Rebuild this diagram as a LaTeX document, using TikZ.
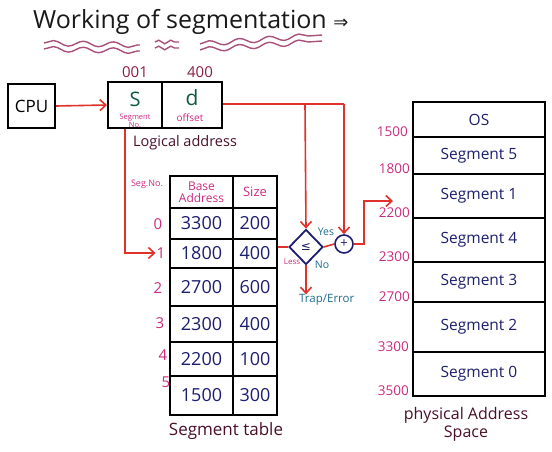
\documentclass[tikz,border=0pt]{standalone}
\usepackage{fontspec}
\setmainfont{Open Sans}
\newfontfamily\symf{DejaVu Sans}
\usetikzlibrary{arrows.meta,shapes.geometric,decorations.pathmorphing}
\definecolor{redl}{HTML}{E0322A}
\definecolor{navy}{HTML}{1C1F6E}
\definecolor{mag}{HTML}{CC2A7E}
\definecolor{maroon}{HTML}{8A1E40}
\definecolor{dmaroon}{HTML}{4A1028}
\definecolor{dgreen}{HTML}{0E5A40}
\definecolor{teal}{HTML}{1E6C8E}
\definecolor{wave}{HTML}{A8507A}
\begin{document}
\begin{tikzpicture}[x=1pt,y=-1pt,
  box/.style={draw=black, line width=2pt, inner sep=0pt},
  cell/.style={box, font=\fontsize{18}{20}\selectfont, text=navy},
  mcell/.style={box, minimum width=132pt, font=\fontsize{15.5}{17}\selectfont, text=navy},
  addr/.style={font=\fontsize{13.5}{14}\selectfont, text=mag, anchor=south east, inner sep=1pt},
  segno/.style={font=\fontsize{15}{16}\selectfont, text=mag, inner sep=1pt},
  redline/.style={draw=redl, line width=1.6pt},
  redarrow/.style={redline, -{Straight Barb[length=6pt,width=11pt]}},
  wavy/.style={draw=wave, line width=1.4pt, decorate, decoration={snake, amplitude=2.6pt, segment length=30pt}}
]
\useasboundingbox (0,0) rectangle (552,452);

% title
\node[anchor=west, font=\fontsize{25}{27}\selectfont, text=black!90, inner sep=0pt] (title) at (33,22) {Working of segmentation {\symf\fontsize{18}{20}\selectfont ⇒}};
\draw[wavy] (44,43) -- (140,45);
\draw[wavy] (44,49) -- (140,51);
\draw[wavy, decoration={segment length=12pt, amplitude=1.8pt}] (155,42) -- (179,42);
\draw[wavy, decoration={segment length=12pt, amplitude=1.8pt}] (155,48) -- (179,48);
\draw[wavy] (200,44) -- (322,35);
\draw[wavy] (200,50) -- (322,41);

% CPU and logical address
\node[box, minimum width=47pt, minimum height=44pt, font=\fontsize{17}{19}\selectfont] (cpu) at (31.5,106) {CPU};
\node[box, minimum width=54pt, minimum height=46pt] (scell) at (135,105) {};
\node[box, minimum width=60pt, minimum height=46pt] (dcell) at (192,105) {};
\node[font=\fontsize{20}{22}\selectfont, text=dgreen] (stxt) at (135,99) {S};
\node[font=\fontsize{21}{22}\selectfont, text=dgreen] (dtxt) at (192,98) {d};
\node[font=\fontsize{7.5}{7}\selectfont, text=mag, align=center, inner sep=0pt] (sno) at (135,121) {Segment\\No.};
\node[font=\fontsize{10}{11}\selectfont, text=mag, inner sep=0pt] (off) at (190,118) {offset};
\node[font=\fontsize{15}{16}\selectfont, text=maroon] (n001) at (135,72) {001};
\node[font=\fontsize{15}{16}\selectfont, text=maroon] (n400) at (200,72) {400};
\node[anchor=west, font=\fontsize{14.5}{15}\selectfont, text=dmaroon, inner sep=0pt] (lab) at (133,143) {Logical address};
\draw[redarrow] (cpu.east) -- (scell.west);

% segment table
\node[segno, font=\fontsize{9}{10}\selectfont] (segh) at (147,184) {Seg.No.};
\node[box, minimum width=63pt, minimum height=32pt, font=\fontsize{12}{12}\selectfont, text=mag, align=center] (hb) at (201.5,192) {Base\\Address};
\node[box, minimum width=44pt, minimum height=32pt, font=\fontsize{13}{14}\selectfont, text=mag] (hs) at (255,192) {Size};
\foreach \i/\yc/\h/\b/\s in {0/223.5/31/3300/200, 1/253.5/29/1800/400, 2/287/38/2700/600, 3/324/36/2300/400, 4/359/34/2200/100, 5/395.5/39/1500/300}{
  \node[cell, minimum width=63pt, minimum height=\h pt] (b\i) at (201.5,\yc) {\b};
  \node[cell, minimum width=44pt, minimum height=\h pt] (s\i) at (255,\yc) {\s};
}
\node[segno] (l0) at (158,224) {0};
\node[segno] (l1) at (161,253) {1};
\node[segno] (l2) at (158,288) {2};
\node[segno] (l3) at (160,323) {3};
\node[segno] (l4) at (163,355) {4};
\node[segno] (l5) at (166,382) {5};
\node[font=\fontsize{17}{18}\selectfont, text=dmaroon] (stab) at (226,431) {Segment table};

\coordinate (c1) at (125,253);
\draw[redarrow] ([xshift=-10pt]scell.south) -- (c1) -- (l1.west);

% comparison and adder
\node[draw=navy, line width=1.8pt, diamond, minimum width=34pt, minimum height=35pt, inner sep=0pt, text=navy, font=\symf\fontsize{12}{12}\selectfont] (dia) at (306,247) {≤};
\node[draw=navy, line width=1.6pt, circle, minimum size=18pt, inner sep=0pt, text=navy, font=\fontsize{13}{13}\selectfont] (plus) at (344,244) {+};
\node[font=\fontsize{10.5}{11}\selectfont, text=teal] (yes) at (326,232) {Yes};
\node[font=\fontsize{10.5}{11}\selectfont, text=teal] (no) at (322,265) {No};
\node[font=\fontsize{8}{9}\selectfont, text=mag, inner sep=0pt] (less) at (292,262) {Less};
\node[font=\fontsize{11.5}{12}\selectfont, text=teal, anchor=west, inner sep=0pt] (trap) at (299,300) {Trap/Error};

\coordinate (j1) at (305,104);
\coordinate (j2) at (344,104);
\draw[redline] (dcell.east |- j1) -- (j1) -- (j2);
\draw[redarrow] (j1) -- (dia.north);
\draw[redarrow] (j2) -- (plus.north);
\draw[redline] (dia.west -| s1.east) -- (dia.west);
\draw[redline] (dia.east) -- (plus.west);
\draw[redarrow] (dia.south) -- (dia.south |- trap.north);
\coordinate (p1) at (364,201);
\coordinate (mtip) at (393,201);
\draw[redarrow] (plus.east) -| (p1) -- (mtip);

% physical memory
\node[mcell, minimum height=35pt] (m0) at (479,119.5) {OS};
\node[mcell, minimum height=37pt] (m1) at (479,155.5) {Segment 5};
\node[mcell, minimum height=44pt] (m2) at (479,196) {Segment 1};
\node[mcell, minimum height=44pt] (m3) at (479,240) {Segment 4};
\node[mcell, minimum height=40pt] (m4) at (479,282) {Segment 3};
\node[mcell, minimum height=50pt] (m5) at (479,327) {Segment 2};
\node[mcell, minimum height=44pt] (m6) at (479,374) {Segment 0};
\node[addr] (a1) at ([xshift=-3pt]m0.south west) {1500};
\node[addr] (a2) at ([xshift=-1pt]m1.south west) {1800};
\node[addr] (a3) at ([xshift=-1pt]m2.south west) {2200};
\node[addr] (a4) at ([xshift=-1pt]m3.south west) {2300};
\node[addr] (a5) at ([xshift=-1pt]m4.south west) {2700};
\node[addr] (a6) at ([xshift=-2pt]m5.south west) {3300};
\node[addr] (a7) at ([xshift=-2pt]m6.south west) {3500};
\node[font=\fontsize{16}{18}\selectfont, text=dmaroon, align=center] (pas) at (466,424) {physical Address\\Space};
\end{tikzpicture}
\end{document}
